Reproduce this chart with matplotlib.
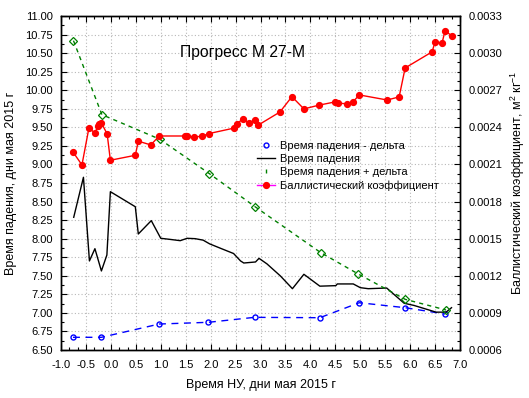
import numpy as np
import matplotlib
matplotlib.use('Agg')
import matplotlib.pyplot as plt
from matplotlib.lines import Line2D
from matplotlib.ticker import MultipleLocator, AutoMinorLocator, FormatStrFormatter

plt.rcParams['font.family'] = ['Liberation Sans', 'DejaVu Sans']
plt.rcParams['mathtext.fontset'] = 'custom'
plt.rcParams['mathtext.rm'] = 'Liberation Sans'
plt.rcParams['mathtext.it'] = 'Liberation Sans'

# Время падения - дельта (blue circles)
t_minus = [-0.76, -0.19, 0.97, 1.955, 2.88, 4.19, 4.98, 5.90, 6.70]
v_minus = [6.671, 6.671, 6.85, 6.873, 6.94, 6.935, 7.137, 7.07, 6.985]

# Время падения + дельта (green diamonds)
t_plus = [-0.75, -0.18, 0.98, 1.975, 2.89, 4.21, 4.96, 5.90, 6.72]
v_plus = [10.668, 9.671, 9.34, 8.876, 8.431, 7.811, 7.524, 7.183, 7.039]

# Время падения (black line)
t_fall = [-0.745, -0.55, -0.43, -0.32, -0.19, -0.08, -0.01, 0.49, 0.55, 0.81,
          1.0, 1.19, 1.39, 1.53, 1.69, 1.85, 1.98, 2.20, 2.46, 2.60,
          2.665, 2.90, 2.97, 3.13, 3.40, 3.64, 3.87, 4.19, 4.51, 4.54,
          4.86, 5.0, 5.16, 5.53, 5.88, 6.08, 6.52, 6.72, 6.83]
v_fall = [8.288, 8.827, 7.70, 7.865, 7.565, 7.78, 8.633, 8.43, 8.063, 8.243,
          8.005, 7.99, 7.973, 8.005, 8.0, 7.98, 7.93, 7.87, 7.80, 7.70,
          7.672, 7.686, 7.735, 7.66, 7.497, 7.326, 7.52, 7.36, 7.367, 7.39,
          7.39, 7.34, 7.326, 7.335, 7.13, 7.10, 7.01, 7.01, 7.07]

# Баллистический коэффициент (red, right axis)
t_bc = [-0.76, -0.58, -0.44, -0.32, -0.26, -0.23, -0.19, -0.075, -0.01, 0.49,
        0.55, 0.80, 0.97, 1.49, 1.53, 1.66, 1.83, 1.96, 2.46, 2.52,
        2.64, 2.77, 2.89, 2.95, 3.39, 3.63, 3.87, 4.18, 4.49, 4.55,
        4.74, 4.86, 4.98, 5.54, 5.78, 5.90, 6.44, 6.50, 6.64, 6.70, 6.83]
bc = [0.002201, 0.002096, 0.002395, 0.002354, 0.002411, 0.002425, 0.002435, 0.002347, 0.002134, 0.002174,
      0.002288, 0.002258, 0.002330, 0.002330, 0.002330, 0.002322, 0.002328, 0.002349, 0.002393, 0.002428,
      0.002465, 0.002438, 0.002458, 0.002417, 0.002524, 0.002648, 0.002549, 0.002580, 0.002605, 0.002597,
      0.002589, 0.002608, 0.002662, 0.002621, 0.002646, 0.002880, 0.003010, 0.003090, 0.003082, 0.003180, 0.003142]

fig = plt.figure(figsize=(5.29, 3.98), dpi=100)
ax = fig.add_axes([61 / 529, 1 - 350 / 398, 399 / 529, 334 / 398])
ax2 = ax.twinx()

ax.grid(True, color='#b8b8b8', linestyle=(0, (1, 2)), linewidth=0.8)
ax.set_axisbelow(True)

ax.plot(t_minus, v_minus, color='#0000ff', linestyle=(0, (5, 4)), linewidth=1.0,
        marker='o', markersize=3.6, markerfacecolor='none', markeredgewidth=1.0)
ax.plot(t_fall, v_fall, color='black', linewidth=1.0)
ax.plot(t_plus, v_plus, color='#008000', linestyle=(0, (3, 3)), linewidth=1.0,
        marker='D', markersize=3.6, markerfacecolor='none', markeredgewidth=0.9)
ax2.plot(t_bc, bc, color='#ff0000', linewidth=1.0, marker='o', markersize=4.2,
         markeredgecolor='#ff0000', markerfacecolor='#ff0000')

ax.set_xlim(-1.0, 7.0)
ax.set_ylim(6.5, 11.0)
ax2.set_ylim(0.0006, 0.0033)

ax.xaxis.set_major_locator(MultipleLocator(0.5))
ax.xaxis.set_minor_locator(AutoMinorLocator(3))
ax.yaxis.set_major_locator(MultipleLocator(0.25))
ax.yaxis.set_minor_locator(AutoMinorLocator(2))
ax2.yaxis.set_major_locator(MultipleLocator(0.0003))
ax2.yaxis.set_minor_locator(AutoMinorLocator(4))
ax.xaxis.set_major_formatter(FormatStrFormatter('%.1f'))
ax.yaxis.set_major_formatter(FormatStrFormatter('%.2f'))
ax2.yaxis.set_major_formatter(FormatStrFormatter('%.4f'))

ax.tick_params(axis='both', which='both', direction='in', labelsize=8, top=True, width=0.8)
ax.tick_params(axis='both', which='major', length=4)
ax.tick_params(axis='both', which='minor', length=2)
ax.tick_params(axis='x', which='major', pad=7)
ax.tick_params(axis='y', which='major', pad=6)
ax2.tick_params(axis='y', which='both', direction='in', labelsize=8, width=0.8)
ax2.tick_params(axis='y', which='major', length=4, pad=6)
ax2.tick_params(axis='y', which='minor', length=2)

for a in (ax, ax2):
    for s in a.spines.values():
        s.set_linewidth(1.0)

ax.set_xlabel('Время НУ, дни мая 2015 г', fontsize=9, labelpad=7)
ax.set_ylabel('Время падения, дни мая 2015 г', fontsize=9, labelpad=6)
ax2.set_ylabel('Баллистический коэффициент, м$^2$ кг$^{-1}$', fontsize=9, labelpad=5)

fig.text(243 / 529, 1 - 52 / 398, 'Прогресс М 27-М', fontsize=11.3, ha='center', va='center')

handles = [
    Line2D([], [], linestyle='none', marker='o', markersize=3.5, markerfacecolor='none',
           markeredgecolor='#0000ff', markeredgewidth=1.0),
    Line2D([], [], color='black', linewidth=1.0),
    Line2D([], [], linestyle='none', marker=(2, 0, 0), markersize=3, color='#008000'),
    Line2D([], [], color='#ff00ff', linewidth=1.0, marker='o', markersize=4.2,
           markerfacecolor='#ff0000', markeredgecolor='#ff0000'),
]
labels = ['Время падения - дельта', 'Время падения', 'Время падения + дельта',
          'Баллистический коэффициент']
ax2.legend(handles, labels, loc='upper left', bbox_to_anchor=(249 / 529, 1 - 133 / 398),
           bbox_transform=fig.transFigure, frameon=False, fontsize=8, handlelength=1.6,
           handletextpad=0.45, labelspacing=0.28, borderpad=0.2)

fig.savefig('out.png', dpi=100)
